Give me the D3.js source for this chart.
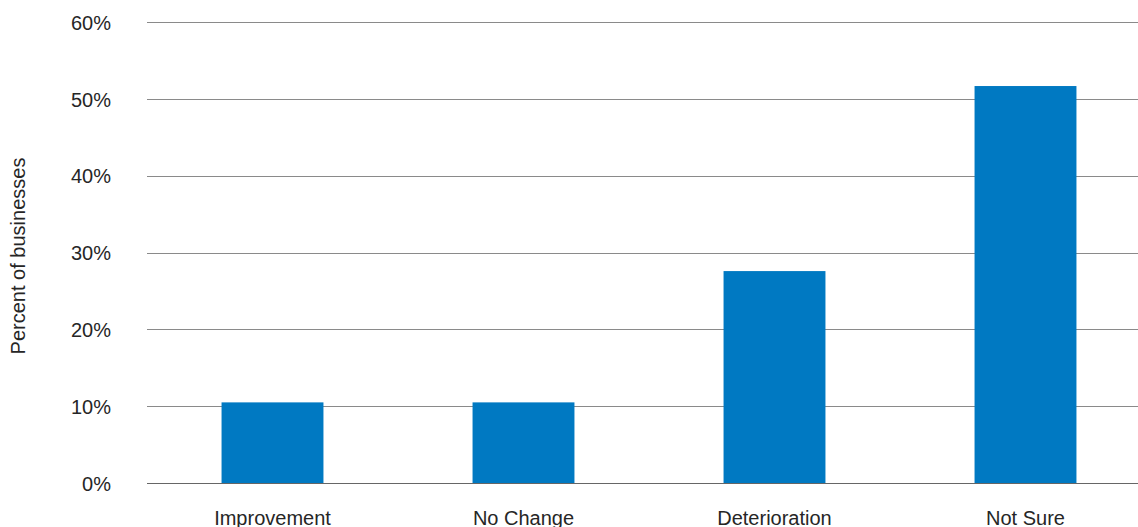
<!DOCTYPE html>
<html>
<head>
<meta charset="utf-8">
<script src="https://cdn.jsdelivr.net/npm/d3@7"></script>
<style>
  html, body { margin: 0; padding: 0; background: #fff; }
  svg { display: block; }
  text { font-family: "Liberation Sans", Arial, sans-serif; fill: #262626; }
</style>
</head>
<body>
<svg id="chart" width="1138" height="527"></svg>
<script>
const categories = ["Improvement", "No Change", "Deterioration", "Not Sure"];
const values = [10.5, 10.5, 27.6, 51.7];
const yTicks = [0, 10, 20, 30, 40, 50, 60];
const yTitle = "Percent of businesses";

const svg = d3.select("#chart");
const W = 1138, H = 527;
const left = 147, step = 251;

const x = d3.scaleBand()
  .domain(categories)
  .range([left, left + step * categories.length])
  .paddingInner(0.594)
  .paddingOuter(0.297);

const y = d3.scaleLinear().domain([0, 60]).range([483, 22.3]);

// gridlines
svg.append("g")
  .selectAll("line")
  .data(yTicks)
  .join("line")
  .attr("x1", left)
  .attr("x2", W)
  .attr("y1", d => Math.round(y(d)) + 0.5)
  .attr("y2", d => Math.round(y(d)) + 0.5)
  .attr("stroke", d => d === 0 ? "#666" : "#8a8a8a")
  .attr("stroke-width", 1.2);

// y tick labels
svg.append("g")
  .selectAll("text")
  .data(yTicks)
  .join("text")
  .attr("x", 111)
  .attr("y", d => y(d))
  .attr("dy", "0.38em")
  .attr("text-anchor", "end")
  .attr("font-size", 20)
  .text(d => d + "%");

// bars
svg.append("g")
  .selectAll("rect")
  .data(values)
  .join("rect")
  .attr("x", (d, i) => x(categories[i]))
  .attr("width", x.bandwidth())
  .attr("y", d => y(d))
  .attr("height", d => y(0) - y(d))
  .attr("fill", "#0079c2");

// x labels
svg.append("g")
  .selectAll("text")
  .data(categories)
  .join("text")
  .attr("x", d => x(d) + x.bandwidth() / 2)
  .attr("y", 524.5)
  .attr("text-anchor", "middle")
  .attr("font-size", 20)
  .text(d => d);

// y title
svg.append("text")
  .attr("transform", "translate(25,256) rotate(-90)")
  .attr("text-anchor", "middle")
  .attr("font-size", 20)
  .text(yTitle);
</script>
</body>
</html>
